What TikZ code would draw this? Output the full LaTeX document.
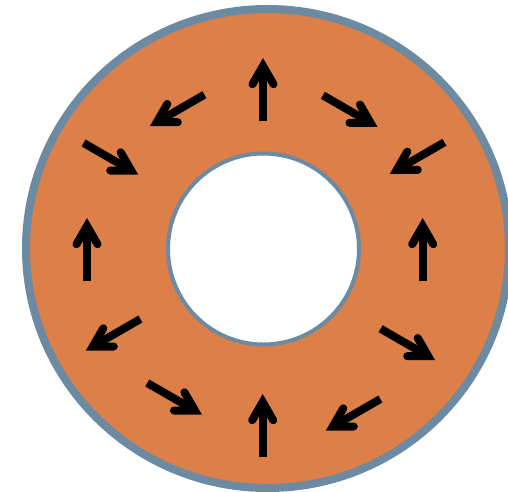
\documentclass[tikz,border=0pt]{standalone}
\usetikzlibrary{calc}
\definecolor{ringfill}{RGB}{221,127,72}
\definecolor{ringedge}{RGB}{108,138,162}
\tikzset{
  shaft/.style={line width=8pt, line cap=butt, draw=black},
  barb/.style={line width=8pt, line cap=round, line join=miter, miter limit=10, draw=black},
}
\newcommand\fieldarrow[3]{%
  \begin{scope}[shift={(#1,#2)}, rotate=#3]
    \draw[shaft] (0,0) -- (55,0);
    \draw[barb] (36.8,10.5) -- (55,0) -- (36.8,-10.5);
  \end{scope}}
\begin{document}
\begin{tikzpicture}[x=1pt,y=-1pt]
  \useasboundingbox[fill=white] (0,0) rectangle (508,491);
  \begin{scope}
    \clip (0,0) rectangle (508,491);
    \draw[fill=ringfill, draw=ringedge, line width=8pt] (267.5,248.5) ellipse [x radius=241.5, y radius=239.5];
  \end{scope}
  \draw[fill=white, draw=ringedge, line width=4pt] (263.5,249) circle [radius=95.5];
  % arrows: tail x, tail y, angle
  \fieldarrow{263}{121}{90}
  \fieldarrow{322.9}{95.3}{-30}
  \fieldarrow{204.4}{94.7}{210}
  \fieldarrow{83.6}{143}{-30}
  \fieldarrow{444.4}{142.3}{210}
  \fieldarrow{87}{281}{90}
  \fieldarrow{422.7}{281}{90}
  \fieldarrow{140.4}{319}{210}
  \fieldarrow{380.6}{328.7}{-30}
  \fieldarrow{147.3}{383}{-30}
  \fieldarrow{380.4}{399}{210}
  \fieldarrow{262.7}{457}{90}
\end{tikzpicture}
\end{document}
